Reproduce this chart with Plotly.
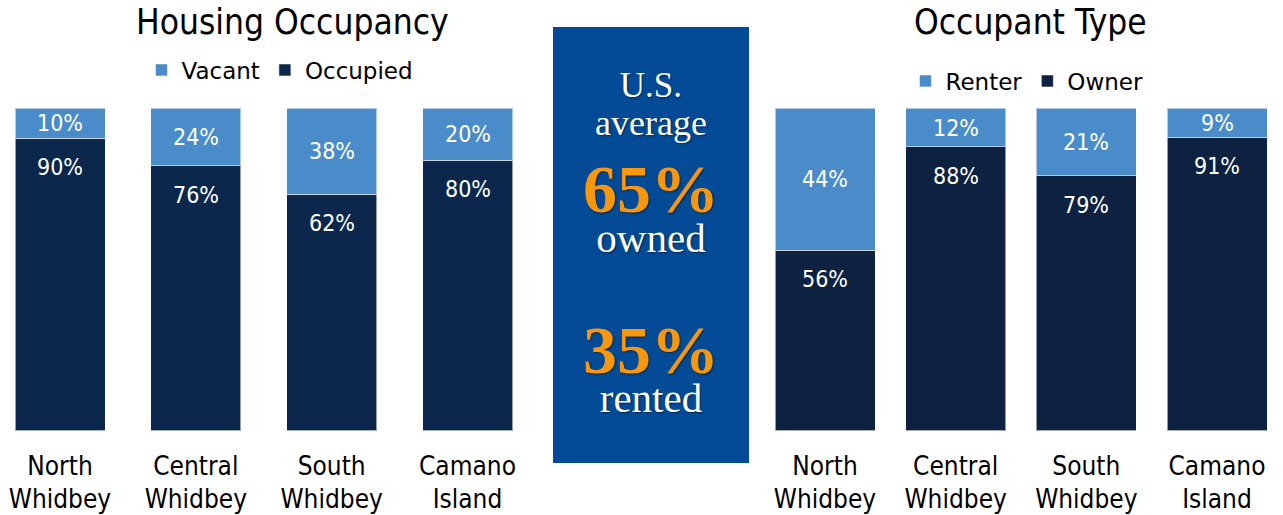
import plotly.graph_objects as go

# ---------------- data ----------------
regions = ["North<br>Whidbey", "Central<br>Whidbey", "South<br>Whidbey", "Camano<br>Island"]

# Housing Occupancy (bar segment heights as drawn, % of bar) and printed labels
vacant = [9.3, 17.8, 26.7, 16.1]
occupied = [90.7, 82.2, 73.3, 83.9]
vacant_labels = ["10%", "24%", "38%", "20%"]
occupied_labels = ["90%", "76%", "62%", "80%"]

# Occupant Type
renter = [44, 12, 21, 9]
owner = [56, 88, 79, 91]
renter_labels = ["44%", "12%", "21%", "9%"]
owner_labels = ["56%", "88%", "79%", "91%"]

# U.S. average panel
us_owned = "65%"
us_rented = "35%"

# ---------------- style / layout ----------------
W, H = 1283, 515
FONT = "DejaVu Sans Condensed, DejaVu Sans, sans-serif"
LEGFONT = "DejaVu Sans, sans-serif"
SERIF = "Georgia, Liberation Serif, serif"
LIGHT = "#4A8CCA"
DARK_L = "#0B284C"
DARK_R = "#0D2141"
BOX = "#034B96"
ORANGE = "#F7960F"
EDGE = dict(color="rgba(255,255,255,0.55)", width=1)


def px_x(p):  # pixel -> paper x
    return p / W


def px_y(p):  # pixel -> paper y
    return 1 - p / H


def cat_range(dom_left, dom_right, first_center, spacing):
    r0 = -(first_center - dom_left) / spacing
    return [r0, r0 + (dom_right - dom_left) / spacing]


L_SP = (467.5 - 60) / 3
R_SP = (1217 - 825) / 3

fig = go.Figure()

fig.add_trace(go.Bar(x=regions, y=occupied, name="Occupied", marker=dict(color=DARK_L, line=EDGE),
                     width=90 / L_SP, xaxis="x", yaxis="y", legend="legend", hoverinfo="skip"))
fig.add_trace(go.Bar(x=regions, y=vacant, name="Vacant", marker=dict(color=LIGHT, line=EDGE),
                     width=90 / L_SP, xaxis="x", yaxis="y", legend="legend", hoverinfo="skip"))
fig.add_trace(go.Bar(x=regions, y=owner, name="Owner", marker=dict(color=DARK_R, line=EDGE),
                     width=100 / R_SP, xaxis="x2", yaxis="y2", legend="legend2", hoverinfo="skip"))
fig.add_trace(go.Bar(x=regions, y=renter, name="Renter", marker=dict(color=LIGHT, line=EDGE),
                     width=100 / R_SP, xaxis="x2", yaxis="y2", legend="legend2", hoverinfo="skip"))

annotations = []
lab_font = dict(family=FONT, size=23, color="white")
for xr, yr, lo, hi, lo_lab, hi_lab in [("x", "y", occupied, vacant, occupied_labels, vacant_labels),
                                        ("x2", "y2", owner, renter, owner_labels, renter_labels)]:
    for r, a, b, la, lb in zip(regions, lo, hi, lo_lab, hi_lab):
        annotations.append(dict(x=r, y=a + b / 2, xref=xr, yref=yr, text=lb, showarrow=False,
                                font=lab_font, yanchor="middle"))
        annotations.append(dict(x=r, y=a, xref=xr, yref=yr, text=la, showarrow=False,
                                font=lab_font, yanchor="middle", yshift=-29))

# titles
for t, cx in [("Housing Occupancy", 292.5), ("Occupant Type", 1030)]:
    annotations.append(dict(x=px_x(cx), y=px_y(22), xref="paper", yref="paper", text=t,
                            showarrow=False, font=dict(family=FONT, size=35, color="black"),
                            xanchor="center", yanchor="middle"))

# center panel text (three multi-line blocks)
shadow = "1px 1px 2px rgba(0,0,0,0.45)"
blocks = [
    ('<span style="font-size:35px">U.S.</span><br><span style="font-size:36px">average</span>', 29.5, 104),
    (f'<span style="font-size:68px;color:{ORANGE}"><b>{us_owned}</b></span><br>'
     '<span style="font-size:41px">owned</span>', 31, 206),
    (f'<span style="font-size:68px;color:{ORANGE}"><b>{us_rented}</b></span><br>'
     '<span style="font-size:41px">rented</span>', 30, 366),
]
for txt, base, cy in blocks:
    annotations.append(dict(x=px_x(651), y=px_y(cy), xref="paper", yref="paper", text=txt,
                            showarrow=False, align="center",
                            font=dict(family=SERIF, size=base, color="white", shadow=shadow),
                            xanchor="center", yanchor="middle"))

xaxis_common = dict(type="category", showgrid=False, zeroline=False, showline=False, ticks="",
                    tickfont=dict(family=FONT, size=26, color="black"), ticklabelstandoff=17,
                    fixedrange=True)
yaxis_common = dict(range=[0, 100], visible=False,
                    domain=[1 - 430.5 / H, 1 - 108.3 / H], fixedrange=True)

leg_common = dict(orientation="h", xanchor="center", yanchor="middle", traceorder="reversed",
                  font=dict(family=LEGFONT, size=23, color="black"), bgcolor="rgba(0,0,0,0)",
                  itemclick=False, itemdoubleclick=False)

fig.update_layout(
    width=W, height=H,
    margin=dict(l=0, r=0, t=0, b=0),
    paper_bgcolor="white", plot_bgcolor="white",
    barmode="stack",
    xaxis=dict(domain=[0, 540 / W], range=cat_range(0, 540, 60, L_SP), **xaxis_common),
    yaxis=dict(anchor="x", **yaxis_common),
    xaxis2=dict(domain=[760 / W, 1.0], range=cat_range(760, 1283, 825, R_SP), anchor="y2",
                **xaxis_common),
    yaxis2=dict(anchor="x2", **yaxis_common),
    legend=dict(x=px_x(280), y=px_y(70), **leg_common),
    legend2=dict(x=px_x(1027), y=px_y(81), **leg_common),
    shapes=[dict(type="rect", xref="paper", yref="paper", x0=px_x(553), x1=px_x(749),
                 y0=px_y(463), y1=px_y(27), fillcolor=BOX, line=dict(width=0), layer="below")],
    annotations=annotations,
    showlegend=True,
)

# remove the default 8px page margin so the 1283x515 figure fills the window exactly
fig.write_html("out.html", config={"displayModeBar": False, "staticPlot": False},
               post_script="document.body.style.margin='0';")
